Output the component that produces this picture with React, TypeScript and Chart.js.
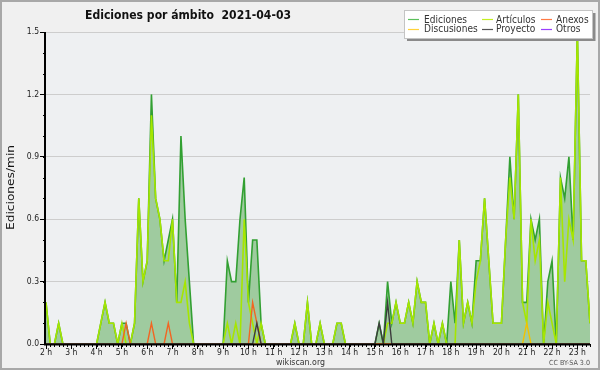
import React, { useEffect, useRef } from "react";
import { Chart, registerables } from "chart.js";

Chart.register(...registerables);

// ---- data (values per minute, 10-minute bins starting at 2:00) ----
const START_HOUR = 2;
const BIN_MINUTES = 10;
const X_MAX = 23.5;

const EDICIONES = [
  0.2, 0, 0, 0.1, 0, 0, 0, 0, 0, 0, 0, 0,
  0, 0.1, 0.2, 0.1, 0.1, 0, 0.1, 0.1, 0, 0.1, 0.7, 0.3,
  0.4, 1.2, 0.7, 0.6, 0.4, 0.5, 0.6, 0.2, 1.0, 0.6, 0.3, 0,
  0, 0, 0, 0, 0, 0, 0, 0.4, 0.3, 0.3, 0.6, 0.8,
  0.2, 0.5, 0.5, 0.1, 0, 0, 0, 0, 0, 0, 0, 0.1,
  0, 0, 0.2, 0, 0, 0.1, 0, 0, 0, 0.1, 0.1, 0,
  0, 0, 0, 0, 0, 0, 0, 0.1, 0, 0.3, 0.1, 0.2,
  0.1, 0.1, 0.2, 0.1, 0.3, 0.2, 0.2, 0, 0.1, 0, 0.1, 0,
  0.3, 0.1, 0.5, 0.1, 0.2, 0.1, 0.4, 0.4, 0.7, 0.4, 0.1, 0.1,
  0.1, 0.5, 0.9, 0.6, 1.2, 0.2, 0.2, 0.6, 0.5, 0.6, 0, 0.3,
  0.4, 0, 0.8, 0.7, 0.9, 0.5, 1.5, 0.4, 0.4, 0.1,
];

const ARTICULOS = [
  0.2, 0, 0, 0.1, 0, 0, 0, 0, 0, 0, 0, 0,
  0, 0.1, 0.2, 0.1, 0.1, 0, 0.1, 0, 0, 0.1, 0.7, 0.3,
  0.4, 1.1, 0.7, 0.6, 0.4, 0.4, 0.6, 0.2, 0.2, 0.3, 0.1, 0,
  0, 0, 0, 0, 0, 0, 0, 0.1, 0, 0.1, 0, 0.6,
  0.2, 0.1, 0, 0.1, 0, 0, 0, 0, 0, 0, 0, 0.1,
  0, 0, 0.2, 0, 0, 0.1, 0, 0, 0, 0.1, 0.1, 0,
  0, 0, 0, 0, 0, 0, 0, 0, 0, 0.1, 0.1, 0.2,
  0.1, 0.1, 0.2, 0.1, 0.3, 0.2, 0.2, 0, 0.1, 0, 0.1, 0,
  0, 0, 0.5, 0.1, 0.2, 0.1, 0.3, 0.4, 0.7, 0.4, 0.1, 0.1,
  0.1, 0.5, 0.8, 0.6, 1.2, 0.2, 0.1, 0.6, 0.4, 0.5, 0, 0.2,
  0.1, 0, 0.8, 0.3, 0.6, 0.5, 1.5, 0.4, 0.4, 0.1,
];

const ANEXOS = [
  0, 0, 0, 0, 0, 0, 0, 0, 0, 0, 0, 0,
  0, 0, 0, 0, 0, 0, 0, 0.1, 0, 0, 0, 0,
  0, 0.1, 0, 0, 0, 0.1, 0, 0, 0, 0, 0, 0,
  0, 0, 0, 0, 0, 0, 0, 0, 0, 0, 0, 0,
  0, 0.2, 0.1, 0, 0, 0, 0, 0, 0, 0, 0, 0,
  0, 0, 0, 0, 0, 0, 0, 0, 0, 0, 0, 0,
  0, 0, 0, 0, 0, 0, 0, 0, 0, 0, 0, 0,
  0, 0, 0, 0, 0, 0, 0, 0, 0, 0, 0, 0,
  0, 0, 0, 0, 0, 0, 0, 0, 0, 0, 0, 0,
  0, 0, 0, 0, 0, 0, 0, 0, 0, 0, 0, 0,
  0, 0, 0, 0, 0, 0, 0, 0, 0, 0,
];

const DISCUSIONES = [
  0, 0, 0, 0, 0, 0, 0, 0, 0, 0, 0, 0,
  0, 0, 0, 0, 0, 0, 0, 0, 0, 0, 0, 0,
  0, 0, 0, 0, 0, 0, 0, 0, 0, 0, 0, 0,
  0, 0, 0, 0, 0, 0, 0, 0, 0, 0, 0, 0,
  0, 0, 0, 0, 0, 0, 0, 0, 0, 0, 0, 0,
  0, 0, 0, 0, 0, 0, 0, 0, 0, 0, 0, 0,
  0, 0, 0, 0, 0, 0, 0, 0, 0, 0, 0, 0,
  0, 0, 0, 0, 0, 0, 0, 0, 0, 0, 0, 0,
  0, 0, 0, 0, 0, 0, 0, 0, 0, 0, 0, 0,
  0, 0, 0, 0, 0, 0, 0, 0, 0, 0, 0, 0,
  0, 0, 0, 0, 0, 0, 0, 0, 0, 0,
];
DISCUSIONES[114] = 0.1;

const PROYECTO = [
  0, 0, 0, 0, 0, 0, 0, 0, 0, 0, 0, 0,
  0, 0, 0, 0, 0, 0, 0, 0, 0, 0, 0, 0,
  0, 0, 0, 0, 0, 0, 0, 0, 0, 0, 0, 0,
  0, 0, 0, 0, 0, 0, 0, 0, 0, 0, 0, 0,
  0, 0, 0.1, 0, 0, 0, 0, 0, 0, 0, 0, 0,
  0, 0, 0, 0, 0, 0, 0, 0, 0, 0, 0, 0,
  0, 0, 0, 0, 0, 0, 0, 0.1, 0, 0.2, 0, 0,
  0, 0, 0, 0, 0, 0, 0, 0, 0, 0, 0, 0,
  0, 0, 0, 0, 0, 0, 0, 0, 0, 0, 0, 0,
  0, 0, 0, 0, 0, 0, 0, 0, 0, 0, 0, 0,
  0, 0, 0, 0, 0, 0, 0, 0, 0, 0,
];

const OTROS = [
  0, 0, 0, 0, 0, 0, 0, 0, 0, 0, 0, 0,
  0, 0, 0, 0, 0, 0, 0, 0, 0, 0, 0, 0,
  0, 0, 0, 0, 0, 0, 0, 0, 0, 0, 0, 0,
  0, 0, 0, 0, 0, 0, 0, 0, 0, 0, 0, 0,
  0, 0, 0, 0, 0, 0, 0, 0, 0, 0, 0, 0,
  0, 0, 0, 0, 0, 0, 0, 0, 0, 0, 0, 0,
  0, 0, 0, 0, 0, 0, 0, 0, 0, 0, 0, 0,
  0, 0, 0, 0, 0, 0, 0, 0, 0, 0, 0, 0,
  0, 0, 0, 0, 0, 0, 0, 0, 0, 0, 0, 0,
  0, 0, 0, 0, 0, 0, 0, 0, 0, 0, 0, 0,
  0, 0, 0, 0, 0, 0, 0, 0, 0, 0,
];

const Y_TICKS_STEP = 0.3;
const Y_MAX = 1.5;
const TITLE = "Ediciones por ámbito  2021-04-03";
const Y_TITLE = "Ediciones/min";
const FOOTER = "wikiscan.org";
const LICENSE = "CC BY-SA 3.0";
const HOUR_SUFFIX = " h";

const C_EDIC = "#32a032";
const C_EDIC_FILL = "#9fcb9f";
const C_ART = "#a6e600";
const C_ANEX = "#f26522";
const C_DISC = "#f2c200";
const C_PROY = "#3c3c3c";
const C_OTROS = "#9a3cf0";

const LEGEND = [
  { label: "Ediciones", color: "#5cc05c" },
  { label: "Artículos", color: "#c4ee22" },
  { label: "Anexos", color: "#ff7a45" },
  { label: "Discusiones", color: "#ffd23a" },
  { label: "Proyecto", color: "#555555" },
  { label: "Otros", color: "#9a40ff" },
];

const FONT = '"DejaVu Sans Condensed", "DejaVu Sans", sans-serif';

function toPoints(arr: number[]) {
  return arr.map((v, i) => ({ x: START_HOUR + (i * BIN_MINUTES) / 60, y: v }));
}

function fitText(
  ctx: CanvasRenderingContext2D,
  text: string,
  x: number,
  y: number,
  font: string,
  width: number,
  align: CanvasTextAlign,
  color: string,
) {
  ctx.save();
  ctx.font = font;
  const w = ctx.measureText(text).width;
  const k = width / w;
  ctx.translate(x, y);
  ctx.scale(k, 1);
  ctx.textAlign = align;
  ctx.textBaseline = "alphabetic";
  ctx.fillStyle = color;
  ctx.fillText(text, 0, 0);
  ctx.restore();
}

const decor = {
  id: "decor",
  beforeDraw(chart: any) {
    const { ctx, chartArea: a } = chart;
    ctx.save();
    ctx.fillStyle = "#f0f0f0";
    ctx.fillRect(0, 0, chart.width, chart.height);
    ctx.fillStyle = "#eef0f2";
    ctx.fillRect(a.left, a.top, a.right - a.left, a.bottom - a.top);
    ctx.restore();
  },
  afterDatasetsDraw(chart: any) {
    const { ctx, chartArea: a } = chart;
    const xs = chart.scales.x;
    const ys = chart.scales.y;
    ctx.save();
    ctx.strokeStyle = "#000";
    ctx.lineWidth = 1;
    // minor x ticks every bin
    const nBins = Math.round(((X_MAX - START_HOUR) * 60) / BIN_MINUTES);
    ctx.beginPath();
    for (let i = 0; i <= nBins; i++) {
      const v = START_HOUR + (i * BIN_MINUTES) / 60;
      const px = Math.round(xs.getPixelForValue(v)) + 0.5;
      ctx.moveTo(px, a.bottom);
      ctx.lineTo(px, a.bottom + 3);
    }
    // minor y ticks every 0.1
    for (let j = 0; j <= 15; j++) {
      const py = Math.round(ys.getPixelForValue(j / 10)) + 0.5;
      ctx.moveTo(a.left - 3, py);
      ctx.lineTo(a.left, py);
    }
    ctx.stroke();
    // axis lines
    ctx.lineWidth = 2;
    ctx.beginPath();
    ctx.moveTo(a.left - 1, a.top);
    ctx.lineTo(a.left - 1, a.bottom + 1.5);
    ctx.moveTo(a.left - 2, a.bottom + 0.5);
    ctx.lineTo(a.right, a.bottom + 0.5);
    ctx.stroke();
    ctx.restore();
  },
  afterDraw(chart: any) {
    const { ctx } = chart;
    ctx.save();
    // title
    fitText(ctx, TITLE, 85, 18.5, `bold 12.5px ${FONT}`, 206, "left", "#111");
    // y axis title
    ctx.save();
    ctx.translate(14, 187.5);
    ctx.rotate(-Math.PI / 2);
    fitText(ctx, Y_TITLE, 0, 0, `10px ${FONT}`, 85, "center", "#111");
    ctx.restore();
    // footer
    fitText(ctx, FOOTER, 300.5, 364.5, `9px ${FONT}`, 49, "center", "#333");
    fitText(ctx, LICENSE, 590, 365, `7px ${FONT}`, 41, "right", "#555");

    // legend
    ctx.fillStyle = "#8a8a8a";
    ctx.fillRect(407, 13, 188.5, 28);
    ctx.fillStyle = "#ffffff";
    ctx.fillRect(404, 10.5, 188.5, 28);
    ctx.strokeStyle = "#c4c4c4";
    ctx.lineWidth = 1;
    ctx.strokeRect(404.5, 10.5, 188, 28);
    ctx.font = `10px ${FONT}`;
    const k = 43 / ctx.measureText("Ediciones").width;
    const lineX = [408, 482, 541];
    const textX = [424, 496, 556];
    const rowLine = [19.5, 29.5];
    const rowText = [22.7, 32.3];
    LEGEND.forEach((it, idx) => {
      const col = idx % 3;
      const row = Math.floor(idx / 3);
      ctx.strokeStyle = it.color;
      ctx.lineWidth = 1.2;
      ctx.beginPath();
      ctx.moveTo(lineX[col], rowLine[row]);
      ctx.lineTo(lineX[col] + 11, rowLine[row]);
      ctx.stroke();
      ctx.save();
      ctx.translate(textX[col], rowText[row]);
      ctx.scale(k, 1);
      ctx.fillStyle = "#333";
      ctx.textAlign = "left";
      ctx.textBaseline = "alphabetic";
      ctx.fillText(it.label, 0, 0);
      ctx.restore();
    });

    // outer border
    ctx.strokeStyle = "#a8a8a8";
    ctx.lineWidth = 2;
    ctx.strokeRect(1, 1, 598, 368);
    ctx.restore();
  },
};

export default function App() {
  const ref = useRef<HTMLCanvasElement>(null);
  useEffect(() => {
    if (!ref.current) return;
    const line = (label: string, data: number[], color: string, extra: any = {}) => ({
      label,
      data: toPoints(data),
      borderColor: color,
      borderWidth: 1.4,
      pointRadius: 0,
      fill: false,
      tension: 0,
      ...extra,
    });
    const chart = new Chart(ref.current, {
      type: "line",
      data: {
        datasets: [
          line("Proyecto", PROYECTO, C_PROY),
          line("Anexos", ANEXOS, C_ANEX),
          line("Discusiones", DISCUSIONES, C_DISC),
          line("Otros", OTROS, C_OTROS),
          line("Artículos", ARTICULOS, C_ART, { borderWidth: 1.6 }),
          line("Ediciones", EDICIONES, C_EDIC, {
            fill: "origin",
            backgroundColor: C_EDIC_FILL,
            borderWidth: 1.6,
          }),
        ],
      },
      options: {
        responsive: false,
        animation: false,
        events: [],
        layout: { padding: { left: 0, right: 10, top: 32, bottom: 0 } },
        plugins: {
          legend: { display: false },
          tooltip: { enabled: false },
          title: { display: false },
        },
        scales: {
          x: {
            type: "linear",
            min: START_HOUR,
            max: X_MAX,
            afterFit: (s: any) => {
              s.height = 26;
            },
            border: { display: false },
            grid: {
              drawOnChartArea: false,
              drawTicks: true,
              tickLength: 5,
              tickColor: "#000",
            },
            ticks: {
              stepSize: 1,
              includeBounds: false,
              autoSkip: false,
              maxRotation: 0,
              padding: -1.5,
              color: "#222",
              font: { family: FONT, size: 8.5 },
              callback: (v: any) => `${v}${HOUR_SUFFIX}`,
            },
          },
          y: {
            min: 0,
            max: Y_MAX,
            afterFit: (s: any) => {
              s.width = 46;
            },
            border: { display: false },
            grid: {
              color: "#cdcdcd",
              lineWidth: 1,
              tickLength: 6,
              tickColor: "#000",
            },
            ticks: {
              stepSize: Y_TICKS_STEP,
              padding: 1,
              color: "#222",
              font: { family: FONT, size: 8.5 },
              callback: (v: any) => Number(v).toFixed(1),
            },
          },
        },
      } as any,
      plugins: [decor],
    });
    return () => chart.destroy();
  }, []);
  return (
    <div style={{ position: "fixed", left: 0, top: 0, width: 600, height: 370 }}>
      <canvas ref={ref} width={600} height={370} style={{ display: "block" }} />
    </div>
  );
}
